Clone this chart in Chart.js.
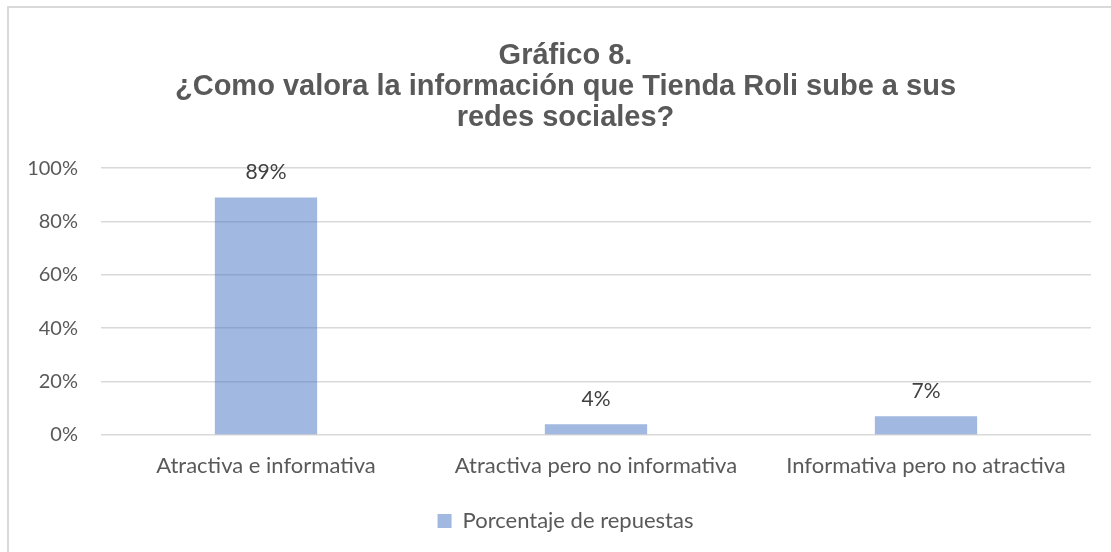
<!DOCTYPE html>
<html>
<head>
<meta charset="utf-8">
<script src="https://cdn.jsdelivr.net/npm/chart.js@4.4.1/dist/chart.umd.min.js"></script>
<style>
    html, body { margin: 0; padding: 0; background: #ffffff; }
    #wrap { position: relative; width: 1111px; height: 552px; overflow: hidden; }
    #frame {
        position: absolute; left: 7px; top: 6px; width: 1200px; height: 700px;
        border-left: 2px solid #d9d9d9; border-top: 2px solid #d9d9d9;
    }
    #chart { position: absolute; left: 0; top: 0; }
</style>
</head>
<body>
<div id="wrap">
    <div id="frame"></div>
    <canvas id="chart" width="1111" height="552"></canvas>
</div>
<script>
const titleLines = [
    "Gráfico 8.",
    "¿Como valora la información que Tienda Roli sube a sus",
    "redes sociales?"
];
const categories = [
    "Atractiva e informativa",
    "Atractiva pero no informativa",
    "Informativa pero no atractiva"
];
const seriesName = "Porcentaje de repuestas";
const percentages = [89, 4, 7];
const yTicks = [0, 20, 40, 60, 80, 100];

const textGrey = "#595959";
const labelFont = "Lato";

// value labels above each bar
const barLabels = {
    id: "barLabels",
    afterDatasetsDraw(chart) {
        const ctx = chart.ctx;
        const meta = chart.getDatasetMeta(0);
        ctx.save();
        ctx.font = "21px " + labelFont;
        ctx.fillStyle = "#404040";
        ctx.textAlign = "center";
        ctx.textBaseline = "middle";
        meta.data.forEach((bar, i) => {
            ctx.fillText(percentages[i] + "%", bar.x, bar.y - 25);
        });
        ctx.restore();
    }
};

// title and legend are centred a bit right of the canvas middle
const shiftHeader = {
    id: "shiftHeader",
    afterLayout(chart) {
        if (chart.titleBlock) chart.titleBlock.left = 40;
        if (chart.legend) chart.legend.left = 40;
    }
};

new Chart(document.getElementById("chart"), {
    type: "bar",
    data: {
        labels: categories,
        datasets: [{
            label: seriesName,
            data: percentages,
            backgroundColor: "rgba(68, 114, 196, 0.5)",
            borderWidth: 0,
            categoryPercentage: 1,
            barPercentage: 0.31
        }]
    },
    options: {
        responsive: false,
        animation: false,
        layout: { padding: { left: 0, right: 20, top: 0, bottom: 10 } },
        plugins: {
            title: {
                display: true,
                text: titleLines,
                color: textGrey,
                font: { family: "Liberation Sans", size: 29, weight: "bold", lineHeight: 1.07 },
                padding: { top: 40, bottom: 35 }
            },
            legend: {
                position: "bottom",
                labels: {
                    color: textGrey,
                    font: { family: labelFont, size: 22 },
                    boxWidth: 14,
                    boxHeight: 14,
                    padding: 10
                }
            },
            tooltip: { enabled: false }
        },
        scales: {
            x: {
                grid: { display: false, drawTicks: false },
                border: { display: false },
                ticks: {
                    color: textGrey,
                    font: { family: labelFont, size: 22 },
                    padding: 18,
                    maxRotation: 0
                },
                afterFit(scale) { scale.height = 65; }
            },
            y: {
                min: 0,
                max: 100,
                grid: { color: "#d9d9d9", lineWidth: 1.5, drawTicks: false },
                border: { display: false },
                afterBuildTicks(scale) {
                    scale.ticks = yTicks.map(v => ({ value: v }));
                },
                ticks: {
                    color: textGrey,
                    font: { family: labelFont, size: 20 },
                    padding: 23,
                    callback: v => v + "%"
                },
                afterFit(scale) { scale.width = 101; }
            }
        }
    },
    plugins: [barLabels, shiftHeader]
});
</script>
</body>
</html>
